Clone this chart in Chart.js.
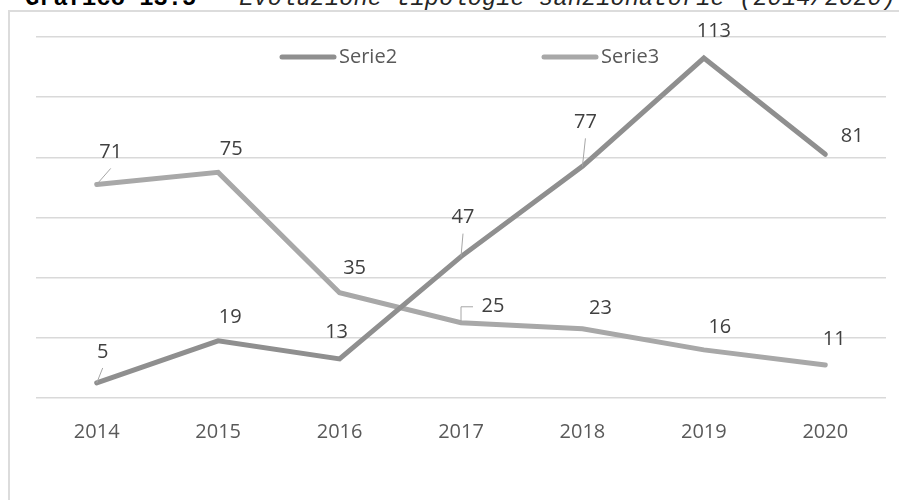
<!DOCTYPE html>
<html>
<head>
<meta charset="utf-8">
<script src="https://cdn.jsdelivr.net/npm/chart.js@4.4.0/dist/chart.umd.min.js"></script>
<style>
  html, body { margin: 0; padding: 0; background: #fff; width: 899px; height: 500px; overflow: hidden; }
  #titolo {
    position: absolute; left: 25px; top: -13px;
    font: 23.8px "Liberation Mono", "Courier New", monospace; line-height: 24px;
    white-space: pre; color: #262626;
  }
  #titolo b { color: #000; }
  #cornice { position: absolute; left: 8px; top: 10px; width: 1000px; height: 1000px; border: 2px solid #dcdcdc; }
  #grafico { position: absolute; left: 0; top: 0; }
</style>
</head>
<body>
<div id="titolo"><b>Grafico 13.5</b> - <i>Evoluzione tipologie sanzionatorie (2014/2020)</i></div>
<div id="cornice"></div>
<canvas id="grafico" width="899" height="500"></canvas>
<script>
// ---- dati ----
const anni = ['2014', '2015', '2016', '2017', '2018', '2019', '2020'];
const serie2 = [5, 19, 13, 47, 77, 113, 81];
const serie3 = [71, 75, 35, 25, 23, 16, 11];
const nomiSerie = ['Serie2', 'Serie3'];
const coloriSerie = ['#8f8f8f', '#a8a8a8'];
const assaY = { min: 0, max: 120, passo: 20 };

// spostamento delle etichette rispetto al punto [dx, dy, linea guida]
const posEtichette2 = [[6, -31, 'linea'], [12, -24], [-3, -27], [2, -39, 'linea'], [3, -44, 'linea'], [10, -27], [27, -18]];
const posEtichette3 = [[14, -32, 'linea'], [13, -23], [15, -24], [32, -16, 'gomito'], [18, -21], [16, -23], [9, -26]];

const FONT = '"Open Sans", "DejaVu Sans", sans-serif';

// etichette dei valori con le linee guida stile Excel
const etichettePlugin = {
  id: 'etichette',
  afterDatasetsDraw(chart) {
    const ctx = chart.ctx;
    ctx.save();
    ctx.font = '20px ' + FONT;
    ctx.textAlign = 'center';
    ctx.textBaseline = 'middle';
    chart.data.datasets.forEach((ds, di) => {
      const meta = chart.getDatasetMeta(di);
      meta.data.forEach((pt, i) => {
        const [dx, dy, guida] = ds.etichette[i];
        const lx = pt.x + dx, ly = pt.y + dy;
        if (guida) {
          ctx.strokeStyle = '#a6a6a6';
          ctx.lineWidth = 1;
          ctx.beginPath();
          ctx.moveTo(pt.x, pt.y);
          if (guida === 'gomito') {
            ctx.lineTo(pt.x, ly);
            ctx.lineTo(lx - 20, ly);
          } else {
            ctx.lineTo(lx, ly + 16);
          }
          ctx.stroke();
        }
        ctx.fillStyle = '#404040';
        ctx.fillText(String(ds.data[i]), lx, ly);
      });
    });
    ctx.restore();
  }
};

// legenda dentro l'area del grafico, voci molto distanziate
const legendaPlugin = {
  id: 'legendaInterna',
  afterDraw(chart) {
    const { ctx, chartArea } = chart;
    const y = chartArea.top + 20;
    const inizi = [chartArea.left + 246, chartArea.left + 508];
    ctx.save();
    ctx.font = '20px ' + FONT;
    ctx.textAlign = 'left';
    ctx.textBaseline = 'middle';
    chart.data.datasets.forEach((ds, i) => {
      const x = inizi[i];
      ctx.strokeStyle = ds.borderColor;
      ctx.lineWidth = 5;
      ctx.lineCap = 'round';
      ctx.beginPath();
      ctx.moveTo(x, y);
      ctx.lineTo(x + 52, y);
      ctx.stroke();
      ctx.fillStyle = '#595959';
      ctx.fillText(ds.label, x + 57, y);
    });
    ctx.restore();
  }
};

const serie = [serie2, serie3];
const posizioni = [posEtichette2, posEtichette3];

new Chart(document.getElementById('grafico'), {
  type: 'line',
  data: {
    labels: anni,
    datasets: serie.map((valori, i) => ({
      label: nomiSerie[i],
      data: valori,
      borderColor: coloriSerie[i],
      backgroundColor: coloriSerie[i],
      borderWidth: 5,
      borderCapStyle: 'round',
      borderJoinStyle: 'miter',
      pointRadius: 0,
      tension: 0,
      etichette: posizioni[i]
    }))
  },
  options: {
    responsive: false,
    animation: false,
    layout: { padding: { left: 36, right: 13, top: 37, bottom: 42 } },
    plugins: { legend: { display: false }, tooltip: { enabled: false } },
    scales: {
      x: {
        offset: true,
        grid: { display: false },
        border: { display: false },
        ticks: { color: '#595959', font: { family: FONT, size: 20 }, padding: 14 }
      },
      y: {
        min: assaY.min,
        max: assaY.max,
        grid: { color: '#d9d9d9', lineWidth: 1.5, drawTicks: false },
        border: { display: false },
        ticks: { display: false, stepSize: assaY.passo }
      }
    }
  },
  plugins: [etichettePlugin, legendaPlugin]
});
</script>
</body>
</html>
